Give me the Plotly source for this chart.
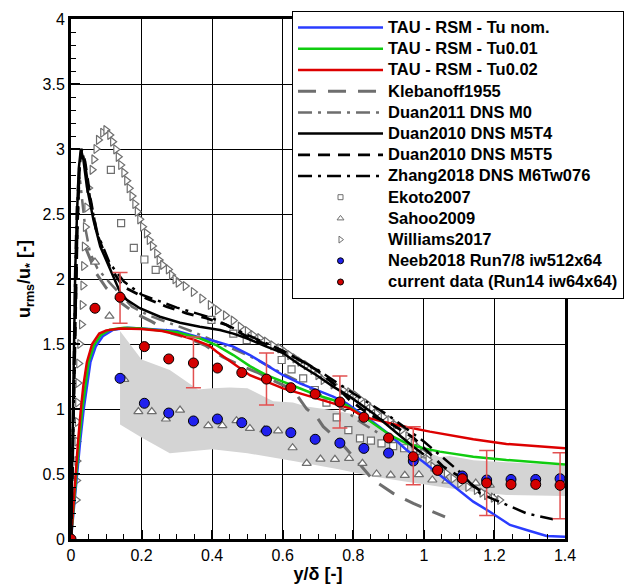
import plotly.graph_objects as go

# ---------------- data ----------------
# TAU - RSM lines
blue_x = [0, 0.008, 0.016, 0.026, 0.036, 0.045, 0.055, 0.07, 0.09, 0.12, 0.16, 0.2, 0.26, 0.3, 0.365, 0.413, 0.46, 0.507, 0.554, 0.601, 0.649, 0.696, 0.743, 0.781, 0.856, 0.904, 0.951, 0.998, 1.045, 1.093, 1.14, 1.187, 1.244, 1.291, 1.348, 1.4]
blue_y = [0, 0.25, 0.5, 0.75, 1.0, 1.18, 1.36, 1.48, 1.56, 1.61, 1.625, 1.62, 1.61, 1.6, 1.55, 1.518, 1.48, 1.415, 1.338, 1.26, 1.197, 1.146, 1.095, 1.044, 0.9, 0.8, 0.685, 0.595, 0.492, 0.39, 0.287, 0.21, 0.108, 0.069, 0.023, 0.018]
green_x = [0, 0.007, 0.014, 0.023, 0.032, 0.04, 0.05, 0.065, 0.085, 0.11, 0.15, 0.2, 0.26, 0.3, 0.365, 0.413, 0.46, 0.507, 0.554, 0.601, 0.649, 0.696, 0.743, 0.781, 0.856, 0.904, 0.951, 0.998, 1.045, 1.14, 1.234, 1.329, 1.4]
green_y = [0, 0.25, 0.5, 0.75, 1.0, 1.18, 1.36, 1.49, 1.57, 1.61, 1.625, 1.62, 1.605, 1.59, 1.544, 1.49, 1.415, 1.33, 1.26, 1.21, 1.16, 1.108, 1.069, 1.03, 0.89, 0.8, 0.736, 0.698, 0.672, 0.633, 0.608, 0.587, 0.574]
red_x = [0, 0.006, 0.012, 0.02, 0.028, 0.035, 0.045, 0.06, 0.08, 0.1, 0.14, 0.2, 0.258, 0.305, 0.352, 0.39, 0.413, 0.46, 0.507, 0.554, 0.601, 0.649, 0.696, 0.743, 0.79, 0.828, 0.923, 1.017, 1.14, 1.234, 1.329, 1.4]
red_y = [0, 0.25, 0.5, 0.75, 1.0, 1.18, 1.36, 1.5, 1.58, 1.605, 1.62, 1.615, 1.6, 1.57, 1.53, 1.49, 1.44, 1.35, 1.26, 1.21, 1.159, 1.12, 1.082, 1.044, 1.005, 0.941, 0.877, 0.826, 0.767, 0.731, 0.71, 0.698]

# reference lines
kleb_x = [0.04, 0.07, 0.1, 0.14, 0.182, 0.229, 0.286, 0.333, 0.38, 0.43, 0.488, 0.53, 0.58, 0.63, 0.668, 0.696, 0.715, 0.762, 0.8, 0.856, 0.913, 0.97, 1.06]
kleb_y = [2.25, 2.05, 1.93, 1.82, 1.736, 1.672, 1.582, 1.544, 1.49, 1.4, 1.325, 1.28, 1.21, 1.146, 1.0, 0.941, 0.864, 0.75, 0.633, 0.454, 0.351, 0.274, 0.17]
duan11_x = [0, 0.004, 0.008, 0.012, 0.016, 0.021, 0.026, 0.032, 0.04, 0.054, 0.075, 0.11, 0.14, 0.173, 0.22, 0.28, 0.34, 0.4, 0.46, 0.52, 0.58, 0.64, 0.7, 0.76, 0.82, 0.88]
duan11_y = [0, 0.8, 1.5, 2.1, 2.55, 2.75, 2.75, 2.6, 2.4, 2.2, 2.08, 1.97, 1.88, 1.787, 1.72, 1.66, 1.6, 1.53, 1.46, 1.39, 1.3, 1.22, 1.12, 1.02, 0.9, 0.8]
m5t4_x = [0, 0.003, 0.005, 0.008, 0.012, 0.017, 0.022, 0.028, 0.035, 0.045, 0.064, 0.083, 0.111, 0.139, 0.158, 0.195, 0.252, 0.309, 0.365, 0.422, 0.46, 0.498, 0.554, 0.601, 0.649, 0.696, 0.743, 0.79, 0.856, 0.923, 0.97, 1.0]
m5t4_y = [0, 0.5, 1.0, 1.5, 2.07, 2.5, 2.85, 3.0, 2.92, 2.71, 2.45, 2.25, 2.07, 1.9, 1.84, 1.775, 1.71, 1.664, 1.633, 1.608, 1.58, 1.544, 1.48, 1.43, 1.338, 1.26, 1.172, 1.095, 0.967, 0.813, 0.71, 0.65]
m5t5_x = [0, 0.004, 0.008, 0.013, 0.018, 0.024, 0.03, 0.04, 0.055, 0.073, 0.11, 0.148, 0.214, 0.271, 0.328, 0.384, 0.441, 0.507, 0.583, 0.639, 0.696, 0.743, 0.79, 0.847, 0.91, 0.97, 1.055, 1.12, 1.17]
m5t5_y = [0, 0.6, 1.2, 1.8, 2.4, 2.85, 3.0, 2.9, 2.62, 2.35, 2.095, 1.94, 1.85, 1.787, 1.736, 1.698, 1.646, 1.544, 1.467, 1.39, 1.3, 1.197, 1.069, 0.954, 0.88, 0.78, 0.556, 0.45, 0.35]
zhang_x = [0, 0.004, 0.008, 0.013, 0.018, 0.024, 0.03, 0.04, 0.055, 0.075, 0.11, 0.15, 0.2, 0.3, 0.4, 0.5, 0.6, 0.7, 0.8, 0.9, 1.0, 1.1, 1.159, 1.225, 1.291, 1.366]
zhang_y = [0, 0.6, 1.2, 1.8, 2.4, 2.85, 3.0, 2.88, 2.6, 2.35, 2.12, 1.98, 1.88, 1.78, 1.7, 1.57, 1.45, 1.3, 1.12, 0.95, 0.75, 0.52, 0.351, 0.274, 0.197, 0.152]

# gray band
band_up_x = [0.139, 0.2, 0.28, 0.36, 0.4, 0.45, 0.5, 0.573, 0.629, 0.667, 0.743, 0.8, 0.856, 0.951, 1.045, 1.074, 1.14, 1.3, 1.4]
band_up_y = [1.6, 1.38, 1.3, 1.15, 1.16, 1.165, 1.16, 1.06, 1.05, 1.02, 0.99, 0.96, 0.88, 0.73, 0.63, 0.638, 0.605, 0.578, 0.566]
band_lo_x = [0.139, 0.2, 0.28, 0.4, 0.5, 0.63, 0.762, 0.856, 0.951, 1.045, 1.14, 1.234, 1.4]
band_lo_y = [0.88, 0.78, 0.66, 0.69, 0.66, 0.6, 0.535, 0.48, 0.44, 0.4, 0.364, 0.338, 0.33]

# Ekoto2007
ekoto_x = [0.113, 0.142, 0.178, 0.208, 0.24, 0.398, 0.46, 0.498, 0.597, 0.625, 0.658, 0.691, 0.724, 0.753, 0.786, 0.819, 0.85, 0.88, 0.913, 0.944, 0.977, 1.01]
ekoto_y = [2.84, 2.43, 2.24, 2.15, 2.07, 1.685, 1.58, 1.53, 1.377, 1.305, 1.236, 1.146, 1.049, 0.936, 0.838, 0.774, 0.756, 0.736, 0.715, 0.698, 0.677, 0.651]
# Sahoo2009
sahoo_x = [0.068, 0.109, 0.151, 0.191, 0.229, 0.269, 0.309, 0.349, 0.389, 0.429, 0.469, 0.507, 0.548, 0.587, 0.628, 0.668, 0.707, 0.748, 0.788, 0.826, 0.866, 0.906, 0.946, 0.986, 1.024, 1.064, 1.107, 1.147, 1.187]
sahoo_y = [2.13, 1.715, 1.228, 0.98, 0.98, 0.923, 0.992, 0.91, 0.872, 0.872, 0.91, 0.851, 0.84, 0.831, 0.702, 0.582, 0.615, 0.613, 0.62, 0.582, 0.5, 0.492, 0.49, 0.495, 0.454, 0.446, 0.46, 0.43, 0.415]
# Williams2017
will_x = [0.015, 0.016, 0.017, 0.017, 0.018, 0.019, 0.02, 0.022, 0.025, 0.03, 0.032, 0.034, 0.036, 0.038, 0.041, 0.045, 0.05, 0.06, 0.065, 0.071, 0.078, 0.09, 0.099, 0.11, 0.118, 0.127, 0.134, 0.141, 0.15, 0.158, 0.165, 0.173, 0.181, 0.188, 0.195, 0.203, 0.214, 0.222, 0.231, 0.243, 0.25, 0.26, 0.276, 0.285, 0.295, 0.304, 0.324, 0.347, 0.371, 0.395, 0.415, 0.438, 0.46, 0.48, 0.5, 0.516, 0.535, 0.554, 0.572, 0.592, 0.606, 0.62, 0.635, 0.649, 0.667, 0.686, 0.7, 0.715, 0.743, 0.771, 0.79, 0.805, 0.82, 0.838, 0.852, 0.866, 0.885, 0.904, 0.92, 0.937, 0.955, 0.97, 0.985, 0.998, 1.012, 1.026, 1.045, 1.064, 1.083, 1.102, 1.125, 1.149, 1.165, 1.178, 1.197, 1.215, 1.23, 1.248]
will_y = [0.3, 0.45, 0.6, 0.75, 0.9, 1.05, 1.2, 1.35, 1.5, 1.65, 1.8, 1.95, 2.1, 2.25, 2.4, 2.55, 2.7, 2.84, 2.92, 3.0, 3.07, 3.125, 3.146, 3.108, 3.056, 2.997, 2.94, 2.877, 2.818, 2.756, 2.698, 2.638, 2.577, 2.518, 2.459, 2.402, 2.351, 2.3, 2.254, 2.197, 2.146, 2.108, 2.074, 2.031, 1.998, 1.972, 1.946, 1.9, 1.85, 1.8, 1.76, 1.72, 1.68, 1.633, 1.6, 1.569, 1.545, 1.518, 1.49, 1.467, 1.441, 1.415, 1.39, 1.365, 1.338, 1.3, 1.26, 1.223, 1.19, 1.146, 1.128, 1.108, 1.075, 1.044, 1.005, 0.967, 0.94, 0.915, 0.875, 0.838, 0.79, 0.736, 0.7, 0.659, 0.61, 0.556, 0.53, 0.505, 0.465, 0.428, 0.4, 0.377, 0.357, 0.338, 0.318, 0.3]

# Neeb2018 Run7/8
neeb_x = [0.139, 0.208, 0.277, 0.347, 0.415, 0.484, 0.554, 0.623, 0.692, 0.762, 0.83, 0.9, 0.97, 1.039, 1.109, 1.178, 1.247, 1.317, 1.386]
neeb_y = [1.236, 1.044, 0.969, 0.908, 0.923, 0.895, 0.831, 0.818, 0.767, 0.738, 0.697, 0.661, 0.6, 0.531, 0.485, 0.454, 0.458, 0.458, 0.464]
# current data (Run14)
cur_x = [0.0, 0.068, 0.139, 0.208, 0.277, 0.347, 0.415, 0.484, 0.554, 0.623, 0.692, 0.762, 0.83, 0.9, 0.97, 1.039, 1.109, 1.178, 1.247, 1.317, 1.386]
cur_y = [0.0, 1.775, 1.86, 1.48, 1.385, 1.354, 1.315, 1.28, 1.23, 1.164, 1.115, 1.054, 0.936, 0.777, 0.633, 0.528, 0.464, 0.431, 0.42, 0.42, 0.413]
err_idx = [2, 5, 8, 11, 14, 17, 20]
err_plus = [0.19, 0.2, 0.2, 0.2, 0.23, 0.25, 0.25]
err_minus = [0.2, 0.19, 0.2, 0.2, 0.215, 0.25, 0.257]

# ---------------- figure ----------------
FONT = "Liberation Sans, Arial, sans-serif"
GRAYM = "#6e6e6e"
fig = go.Figure()

fig.add_trace(go.Scatter(
    x=band_up_x + band_lo_x[::-1], y=band_up_y + band_lo_y[::-1],
    fill="toself", fillcolor="#d4d4d4", line=dict(width=0), mode="lines",
    hoverinfo="skip", showlegend=False))

def line(x, y, color, dash, width, name):
    fig.add_trace(go.Scatter(x=x, y=y, mode="lines", name=name, showlegend=False,
                             line=dict(color=color, dash=dash, width=width)))

line(kleb_x, kleb_y, GRAYM, "18px,12px", 3, "Klebanoff1955")
line(duan11_x, duan11_y, GRAYM, "14px,6px,3px,6px", 2.5, "Duan2011 DNS M0")

def markers(x, y, symbol, size, fill, edge, ew, name):
    fig.add_trace(go.Scatter(x=x, y=y, mode="markers", name=name, showlegend=False,
                             marker=dict(symbol=symbol, size=size, color=fill,
                                         line=dict(color=edge, width=ew))))

markers(ekoto_x, ekoto_y, "square", 7, "white", GRAYM, 1.2, "Ekoto2007")
markers(sahoo_x, sahoo_y, "triangle-up", 8, "white", GRAYM, 1.2, "Sahoo2009")
markers(will_x, will_y, "triangle-right", 8, "white", GRAYM, 1.2, "Williams2017")

line(blue_x, blue_y, "#2a3cff", "solid", 2.5, "TAU - RSM - Tu nom.")
line(green_x, green_y, "#10cc10", "solid", 2.5, "TAU - RSM - Tu0.01")
line(red_x, red_y, "#dd0000", "solid", 2.5, "TAU - RSM - Tu0.02")
line(m5t4_x, m5t4_y, "black", "solid", 2.5, "Duan2010 DNS M5T4")
line(m5t5_x, m5t5_y, "black", "12px,8px", 2.8, "Duan2010 DNS M5T5")
line(zhang_x, zhang_y, "black", "14px,6px,3px,6px", 2.5, "Zhang2018 DNS M6Tw076")

markers(neeb_x, neeb_y, "circle", 10, "#2020ee", "black", 1, "Neeb2018 Run7/8 iw512x64")

fig.add_trace(go.Scatter(
    x=[cur_x[i] for i in err_idx], y=[cur_y[i] for i in err_idx], mode="markers",
    marker=dict(size=1, color="rgba(0,0,0,0)"), showlegend=False, hoverinfo="skip",
    error_y=dict(type="data", symmetric=False, array=err_plus, arrayminus=err_minus,
                 color="#e25050", thickness=1.5, width=7.5)))
markers(cur_x, cur_y, "circle", 10, "#d40000", "black", 1, "current data (Run14 iw64x64)")

# legend entries (small symbols as in the reference)
leg = [
    ("TAU - RSM - Tu nom.", "lines", dict(color="#2a3cff", width=2.5), None),
    ("TAU - RSM - Tu0.01", "lines", dict(color="#10cc10", width=2.5), None),
    ("TAU - RSM - Tu0.02", "lines", dict(color="#dd0000", width=2.5), None),
    ("Klebanoff1955", "lines", dict(color=GRAYM, width=3, dash="18px,12px"), None),
    ("Duan2011 DNS M0", "lines", dict(color=GRAYM, width=2.5, dash="14px,6px,3px,6px"), None),
    ("Duan2010 DNS M5T4", "lines", dict(color="black", width=2.5), None),
    ("Duan2010 DNS M5T5", "lines", dict(color="black", width=2.8, dash="12px,8px"), None),
    ("Zhang2018 DNS M6Tw076", "lines", dict(color="black", width=2.5, dash="14px,6px,3px,6px"), None),
    ("Ekoto2007", "markers", None, dict(symbol="square", size=5, color="white", line=dict(color=GRAYM, width=1))),
    ("Sahoo2009", "markers", None, dict(symbol="triangle-up", size=6, color="white", line=dict(color=GRAYM, width=1))),
    ("Williams2017", "markers", None, dict(symbol="triangle-right", size=6, color="white", line=dict(color=GRAYM, width=1))),
    ("Neeb2018 Run7/8 iw512x64", "markers", None, dict(symbol="circle", size=6, color="#2020ee", line=dict(color="black", width=1))),
    ("current data (Run14 iw64x64)", "markers", None, dict(symbol="circle", size=6, color="#d40000", line=dict(color="black", width=1))),
]
for name, mode, ln, mk in leg:
    kw = dict(x=[None], y=[None], mode=mode, showlegend=True,
              name='<span style="font-size:16.5px">' + name + '</span>')
    if ln:
        kw["line"] = ln
    if mk:
        kw["marker"] = mk
    fig.add_trace(go.Scatter(**kw))

axis_common = dict(
    showline=True, linewidth=3, linecolor="black", mirror=True,
    showgrid=True, gridcolor="black", gridwidth=1, zeroline=False,
    ticks="inside", ticklen=9, tickwidth=2, tickcolor="black",
    tickfont=dict(family=FONT, size=16, color="black"),
)
fig.update_xaxes(range=[0, 1.4], dtick=0.2, tick0=0,
                 minor=dict(ticks="inside", ticklen=5, tickwidth=1, tickcolor="black", dtick=0.05, showgrid=False),
                 title=dict(text="<b>y/δ [-]</b>", font=dict(family=FONT, size=18, color="black"), standoff=4),
                 **axis_common)
fig.update_yaxes(range=[0, 4], dtick=0.5, tick0=0,
                 minor=dict(ticks="inside", ticklen=5, tickwidth=1, tickcolor="black", dtick=0.1, showgrid=False),
                 title=dict(text="<b>u<sub>rms</sub>/u<sub>*</sub> [-]</b>", font=dict(family=FONT, size=18, color="black"), standoff=8),
                 **axis_common)

fig.update_layout(
    width=642, height=586,
    margin=dict(l=71, r=77, t=19, b=47, autoexpand=False),
    paper_bgcolor="white", plot_bgcolor="white",
    font=dict(family=FONT, color="black"),
    legend=dict(x=0.4474, y=1.0154, xanchor="left", yanchor="top",
                bgcolor="white", bordercolor="black", borderwidth=1,
                font=dict(family=FONT, size=14.0, color="black", weight="bold"),
                itemwidth=85, tracegroupgap=0, maxheight=586),
)

fig.write_html("out.html")
